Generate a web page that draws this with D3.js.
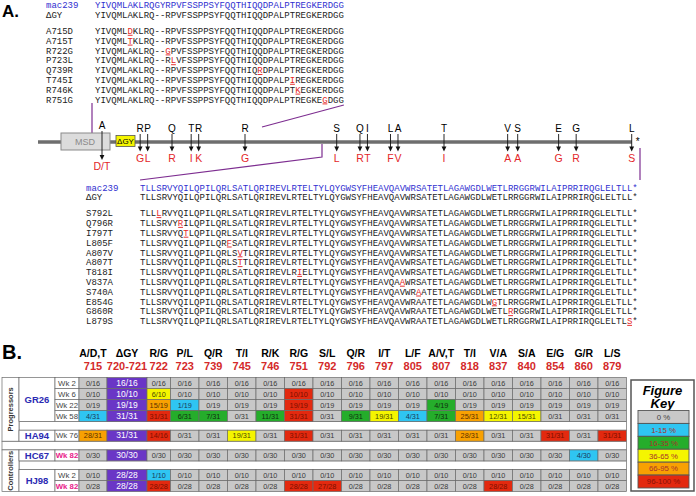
<!DOCTYPE html>
<html>
<head>
<meta charset="utf-8">
<title>SIV gp41 tail mutations</title>
<style>
body { margin: 0; background: #fff; }
text { font-family: Arial, "Liberation Sans", sans-serif; }
text.seq { font-family: "Liberation Mono", "DejaVu Sans Mono", monospace; font-size: 9px; }
</style>
</head>
<body>
<script src="https://cdn.jsdelivr.net/npm/d3@7/dist/d3.min.js"></script>
<script>

// ---------- panel A : aligned sequences ----------
var topStart = 709;
var topRef = "YIVQMLAKLRQGYRPVFSSPPSYFQQTHIQQDPALPTREGKERDGG";
var topDel = "YIVQMLAKLRQ--RPVFSSPPSYFQQTHIQQDPALPTREGKERDGG";
var topMuts = ["A715D", "A715T", "R722G", "P723L", "Q739R", "T745I", "R746K", "R751G"];

var botStart = 789;
var botRef = "TLLSRVYQILQPILQRLSATLQRIREVLRTELTYLQYGWSYFHEAVQAVWRSATETLAGAWGDLWETLRRGGRWILAIPRRIRQGLELTLL*";
var botMuts = ["S792L", "Q796R", "I797T", "L805F", "A807V", "A807T", "T818I", "V837A", "S740A", "E854G", "G860R", "L879S"];
// residue underlined in each row, as printed
var botMutSite = [792, 796, 797, 805, 807, 807, 818, 837, 840, 854, 857, 879];
// rows that also carry 840A
var botCarry840A = [0, 0, 0, 0, 0, 0, 0, 0, 0, 1, 1, 1];

// ---------- panel A : schematic of the tail ----------
var siteWt  = ["A", "R", "P", "Q", "T", "R", "R", "S", "Q", "I", "L", "A", "T", "V", "S", "E", "G", "L"];
var sitePos = [715, 722, 723, 739, 745, 746, 751, 792, 796, 797, 805, 807, 818, 837, 840, 854, 860, 879];
var siteMut = ["D/T", "G", "L", "R", "I", "K", "G", "L", "R", "T", "F", "V", "I", "A", "A", "G", "R", "S"];

// ---------- panel B : table ----------
var colAA  = ["A/D,T", "\u0394GY", "R/G", "P/L", "Q/R", "T/I", "R/K", "R/G", "S/L", "Q/R", "I/T", "L/F", "A/V,T", "T/I", "V/A", "S/A", "E/G", "G/R", "L/S"];
var colPos = ["715", "720-721", "722", "723", "739", "745", "746", "751", "792", "796", "797", "805", "807", "818", "837", "840", "854", "860", "879"];

var rowGroup  = ["Progressors", "Progressors", "Progressors", "Progressors", "Progressors", "Controllers", "Controllers", "Controllers"];
var rowAnimal = ["GR26", "GR26", "GR26", "GR26", "HA94", "HC67", "HJ98", "HJ98"];
var rowWeek   = ["Wk 2", "Wk 6", "Wk 22", "Wk 58", "Wk 76", "Wk 82", "Wk 2", "Wk 82"];
var rowCounts = [
  ["0/16","16/16","0/16","0/16","0/16","0/16","0/16","0/16","0/16","0/16","0/16","0/16","0/16","0/16","0/16","0/16","0/16","0/16","0/16"],
  ["0/10","10/10","6/10","0/10","0/10","0/10","0/10","10/10","0/10","0/10","0/10","0/10","0/10","0/10","0/10","0/10","0/10","0/10","0/10"],
  ["0/19","19/19","15/19","1/19","0/19","0/19","0/19","19/19","0/19","0/19","0/19","0/19","4/19","0/19","0/19","0/19","0/19","0/19","0/19"],
  ["4/31","31/31","31/31","6/31","7/31","0/31","11/31","31/31","0/31","9/31","19/31","4/31","7/31","25/31","12/31","15/31","0/31","0/31","0/31"],
  ["28/31","31/31","14/16","0/31","0/31","19/31","0/31","31/31","0/31","0/31","0/31","0/31","0/31","28/31","0/31","0/31","31/31","0/31","31/31"],
  ["0/30","30/30","0/30","0/30","0/30","0/30","0/30","0/30","0/30","0/30","0/30","0/30","0/30","0/30","0/30","0/30","0/30","4/30","0/30"],
  ["0/10","28/28","1/10","0/10","0/10","0/10","0/10","0/10","0/10","0/10","0/10","0/10","0/10","0/10","0/10","0/10","0/10","0/10","0/10"],
  ["0/28","28/28","28/28","0/28","0/28","0/28","0/28","28/28","27/28","0/28","0/28","0/28","0/28","0/28","28/28","0/28","0/28","0/28","0/28"]
];
// the figure shades HA94 722 (14/16) in the top bin
var cellOverride = {"4,2": 5};

var keyLabels = ["0 %", "1-15 %", "16-35 %", "36-65 %", "66-95 %", "96-100 %"];
var keyColors = ["#c8c8c8", "#2fc5f2", "#25ad2b", "#f5f500", "#f8a102", "#e3290f"];
var dgyColor = "#6a36c6";


var width = 696, height = 496;
var svg = d3.select("body").append("svg")
    .attr("width", width)
    .attr("height", height);

svg.append("text").attr("x", 2).attr("y", 17).text("A.")
    .style("font-size", "17px").style("font-weight", "bold");
svg.append("text").attr("x", 2).attr("y", 359).text("B.")
    .style("font-size", "20px").style("font-weight", "bold");

// ---- sequence blocks ----
var CW = 5.41;
function drawBlock(rows, nameX, seqX) {
  var g = svg.append("g");
  var n = rows[0].seq.length;
  var xs = d3.scaleLinear().domain([0, n]).range([seqX, seqX + n * CW]);
  rows.forEach(function(r) {
    var col = r.ref ? "#3030d0" : "#222";
    g.append("text").attr("class", "seq").attr("x", nameX).attr("y", r.y)
        .attr("fill", col).text(r.name);
    g.selectAll(null)
        .data(r.seq.split(""))
        .enter().append("text")
        .attr("class", "seq")
        .attr("x", function(d, i) { return xs(i) + CW / 2; })
        .attr("y", r.y)
        .attr("text-anchor", "middle")
        .attr("fill", function(d, i) { return i == r.hi ? "#e41f1f" : col; })
        .text(function(d) { return d; });
    if (r.hi != null) {
      g.append("line")
          .attr("x1", xs(r.hi) + 0.3).attr("x2", xs(r.hi + 1) - 0.3)
          .attr("y1", r.y + 1.3).attr("y2", r.y + 1.3)
          .attr("stroke", "#e41f1f").attr("stroke-width", 0.9);
    }
  });
  return xs;
}

var topRows = [{name: "mac239", seq: topRef, ref: true, y: 8}, {name: "\u0394GY", seq: topDel, y: 18}];
topMuts.forEach(function(m, i) {
  var idx = +m.slice(1, -1) - topStart;
  var s = topDel.split("");
  s[idx] = m.slice(-1);
  topRows.push({name: m, seq: s.join(""), hi: idx, y: 34 + i * 9.8});
});
var topX = drawBlock(topRows, 46, 95);

var botRows = [{name: "mac239", seq: botRef, ref: true, y: 190.5}, {name: "\u0394GY", seq: botRef, y: 200.2}];
botMuts.forEach(function(m, i) {
  var idx = botMutSite[i] - botStart;
  var s = botRef.split("");
  if (botCarry840A[i]) s[840 - botStart] = "A";
  s[idx] = m.slice(-1);
  botRows.push({name: m, seq: s.join(""), hi: idx, y: 216.3 + i * 9.8});
});
drawBlock(botRows, 86, 140);

// ---- schematic ----
var track = d3.scaleLinear()
    .domain([709, 715, 723, 739, 746, 751, 755, 789, 792, 797, 807, 818, 840, 879])
    .range([92, 102, 146.7, 172, 196.7, 245, 262, 322, 336.7, 366.7, 397.3, 444, 517.7, 631.7]);

var sites = sitePos.map(function(p, i) {
  return {wt: siteWt[i], pos: p, mut: siteMut[i], x: track(p)};
});
// keep neighbouring arrows apart
for (var k = 1; k < sites.length; k++) {
  var gap = sites[k].x - sites[k - 1].x;
  if (gap < 7.5) {
    var push = (7.5 - gap) / 2;
    sites[k - 1].x -= push;
    sites[k].x += push;
  }
}

var purple = "#7d2d90";
var trackY = 142;

svg.append("line")
    .attr("x1", 38).attr("x2", track(879))
    .attr("y1", trackY).attr("y2", trackY)
    .attr("stroke", "#6e6e6e").attr("stroke-width", 3.5);
svg.append("text").attr("x", track(879) + 6).attr("y", 145)
    .attr("text-anchor", "middle").style("font-size", "10px").text("*");

// connectors from the track to the sequence blocks
svg.append("line").attr("x1", track(709)).attr("x2", track(709))
    .attr("y1", 103).attr("y2", 133)
    .attr("stroke", purple).attr("stroke-width", 1.2);
svg.append("line").attr("x1", track(755)).attr("y1", 127)
    .attr("x2", topX(topRef.length)).attr("y2", 105)
    .attr("stroke", purple).attr("stroke-width", 1.2);
svg.append("path")
    .attr("d", "M" + track(789) + "," + (trackY + 2) + "V157L140,180")
    .attr("fill", "none").attr("stroke", purple).attr("stroke-width", 1.2);
svg.append("line").attr("x1", 640).attr("x2", 640)
    .attr("y1", 148).attr("y2", 180)
    .attr("stroke", purple).attr("stroke-width", 1.2);

// MSD and deletion boxes
svg.append("rect").attr("x", 61).attr("y", 133).attr("width", 49).attr("height", 17)
    .attr("fill", "#dcdcdc").attr("stroke", "#8a8a8a");
svg.append("text").attr("x", 85).attr("y", 144.5).attr("text-anchor", "middle")
    .attr("fill", "#8a8a8a").style("font-size", "9px").text("MSD");
svg.append("rect").attr("x", 116).attr("y", 135.5).attr("width", 19).attr("height", 11)
    .attr("fill", "#f5f500").attr("stroke", "#555").attr("stroke-width", 0.8);
svg.append("text").attr("x", 125.5).attr("y", 144).attr("text-anchor", "middle")
    .style("font-size", "8px").text("\u0394GY");

var arrows = svg.append("g").selectAll("g")
    .data(sites)
    .enter().append("g");

arrows.append("text")
    .attr("x", function(d) { return d.x; })
    .attr("y", function(d) { return d.pos == 715 ? 129 : 132; })
    .attr("text-anchor", "middle")
    .style("font-size", "10px")
    .text(function(d) { return d.wt; });
arrows.append("line")
    .attr("x1", function(d) { return d.x; })
    .attr("x2", function(d) { return d.x; })
    .attr("y1", function(d) { return d.pos == 715 ? 131 : 134; })
    .attr("y2", function(d) { return d.pos == 715 ? 156 : 147; })
    .attr("stroke", "#111").attr("stroke-width", 0.9);
arrows.append("path")
    .attr("d", function(d) {
      var tip = d.pos == 715 ? 160 : 151.5;
      return "M" + (d.x - 2.4) + "," + (tip - 5) + "L" + (d.x + 2.4) + "," + (tip - 5) + "L" + d.x + "," + tip + "Z";
    })
    .attr("fill", "#111");
arrows.append("text")
    .attr("x", function(d) { return d.x; })
    .attr("y", function(d) { return d.pos == 715 ? 169.5 : 162; })
    .attr("text-anchor", "middle")
    .attr("fill", "#e3262a")
    .style("font-size", "10.5px")
    .text(function(d) { return d.mut; });

// ---- panel B table ----
var colW = [28, 40, 23.5];
for (var c = 3; c < colAA.length; c++) colW.push(28.5);
var colX = [79];
colW.forEach(function(w, i) { colX.push(colX[i] + w); });
var tableRight = colX[colX.length - 1];

var headers = svg.append("g").selectAll("g")
    .data(colAA)
    .enter().append("g");
headers.append("text")
    .attr("x", function(d, i) { return colX[i] + colW[i] / 2; })
    .attr("y", 357)
    .attr("text-anchor", "middle")
    .style("font-size", "10.5px").style("font-weight", "bold")
    .text(function(d) { return d; });
headers.append("text")
    .attr("x", function(d, i) { return colX[i] + colW[i] / 2; })
    .attr("y", 369.5)
    .attr("text-anchor", "middle")
    .attr("fill", "#d42a2a")
    .style("font-size", "11px").style("font-weight", "bold")
    .text(function(d, i) { return colPos[i]; });

var rowH = 11, sepH = 8.7;
var rowY = [], seps = [], y = 377.5;
rowWeek.forEach(function(w, i) {
  if (i > 0 && rowGroup[i] != rowGroup[i - 1]) { seps.push({type: "gap", y: y}); y += sepH; }
  else if (i > 0 && rowAnimal[i] != rowAnimal[i - 1]) { seps.push({type: "spacer", y: y}); y += sepH; }
  rowY.push(y);
  y += rowH;
});

var lineCol = "#6a6a6a";
var tbl = svg.append("g");

// separator rows
tbl.selectAll(".sep")
    .data(seps)
    .enter().append("rect")
    .attr("x", function(d) { return d.type == "gap" ? 2 : 19; })
    .attr("y", function(d) { return d.y; })
    .attr("width", function(d) { return tableRight - (d.type == "gap" ? 2 : 19); })
    .attr("height", sepH)
    .attr("fill", "#fff").attr("stroke", lineCol).attr("stroke-width", 0.7);

// group and animal blocks
function spans(keys) {
  var out = [];
  keys.forEach(function(k, i) {
    if (i == 0 || keys[i - 1] != k) out.push({key: k, first: i, last: i});
    else out[out.length - 1].last = i;
  });
  return out;
}
var groups = spans(rowGroup);
tbl.selectAll(".grp")
    .data(groups)
    .enter().append("rect")
    .attr("x", 2).attr("width", 17)
    .attr("y", function(d) { return rowY[d.first]; })
    .attr("height", function(d) { return rowY[d.last] + rowH - rowY[d.first]; })
    .attr("fill", "#fff").attr("stroke", lineCol).attr("stroke-width", 0.7);
tbl.selectAll(".grpLabel")
    .data(groups)
    .enter().append("text")
    .attr("transform", function(d) {
      var cy = (rowY[d.first] + rowY[d.last] + rowH) / 2;
      return "translate(13.2," + cy + ") rotate(-90)";
    })
    .attr("text-anchor", "middle")
    .attr("fill", "#333")
    .style("font-size", "7.5px").style("font-weight", "bold")
    .text(function(d) { return d.key; });

var animals = spans(rowAnimal);
tbl.selectAll(".ani")
    .data(animals)
    .enter().append("rect")
    .attr("x", 19).attr("width", 36)
    .attr("y", function(d) { return rowY[d.first]; })
    .attr("height", function(d) { return rowY[d.last] + rowH - rowY[d.first]; })
    .attr("fill", "#fff").attr("stroke", lineCol).attr("stroke-width", 0.7);
tbl.selectAll(".aniLabel")
    .data(animals)
    .enter().append("text")
    .attr("x", 37)
    .attr("y", function(d) { return (rowY[d.first] + rowY[d.last] + rowH) / 2 + 3.4; })
    .attr("text-anchor", "middle")
    .attr("fill", "#2b2bb3")
    .style("font-size", "9.5px").style("font-weight", "bold")
    .text(function(d) { return d.key; });

// week cells
tbl.selectAll(".wk")
    .data(rowWeek)
    .enter().append("rect")
    .attr("x", 55).attr("width", 24)
    .attr("y", function(d, i) { return rowY[i]; })
    .attr("height", rowH)
    .attr("fill", "#fff").attr("stroke", lineCol).attr("stroke-width", 0.7);
tbl.selectAll(".wkLabel")
    .data(rowWeek)
    .enter().append("text")
    .attr("x", 67)
    .attr("y", function(d, i) { return rowY[i] + 8; })
    .attr("text-anchor", "middle")
    .attr("fill", function(d) { return d == "Wk 82" ? "#e8208a" : "#444"; })
    .style("font-size", "7.8px")
    .style("font-weight", function(d) { return d == "Wk 82" ? "bold" : "normal"; })
    .text(function(d) { return d; });

// data cells
var bin = d3.scaleThreshold().domain([0.5, 15.5, 35.5, 65.5, 95.5]).range(d3.range(6));
var cells = [];
rowCounts.forEach(function(row, r) {
  row.forEach(function(v, c) {
    var p = v.split("/");
    var b = bin(100 * p[0] / p[1]);
    if (cellOverride[r + "," + c] != null) b = cellOverride[r + "," + c];
    cells.push({r: r, c: c, v: v, bin: b});
  });
});
var cellTextCol = ["#3a3a3a", "#1a3a5a", "#10300f", "#4a4a00", "#5a3000", "#7a1000"];

var cell = tbl.selectAll(".cell")
    .data(cells)
    .enter().append("g");
cell.append("rect")
    .attr("x", function(d) { return colX[d.c]; })
    .attr("y", function(d) { return rowY[d.r]; })
    .attr("width", function(d) { return colW[d.c]; })
    .attr("height", rowH)
    .attr("fill", function(d) { return d.c == 1 ? dgyColor : keyColors[d.bin]; })
    .attr("stroke", lineCol).attr("stroke-width", 0.7);
cell.append("text")
    .attr("x", function(d) { return colX[d.c] + colW[d.c] / 2; })
    .attr("y", function(d) { return rowY[d.r] + 8; })
    .attr("text-anchor", "middle")
    .attr("fill", function(d) { return d.c == 1 ? "#fff" : cellTextCol[d.bin]; })
    .style("font-size", function(d) { return d.c == 1 ? "8.5px" : "7.3px"; })
    .text(function(d) { return d.v; });

// figure key
var key = svg.append("g");
key.append("rect").attr("x", 631).attr("y", 380).attr("width", 63).attr("height", 111)
    .attr("fill", "#fff").attr("stroke", "#555").attr("stroke-width", 1.5);
key.selectAll(".kt")
    .data(["Figure", "Key"])
    .enter().append("text")
    .attr("x", 662.5)
    .attr("y", function(d, i) { return 395 + i * 13; })
    .attr("text-anchor", "middle")
    .style("font-size", "13px").style("font-weight", "bold").style("font-style", "italic")
    .text(function(d) { return d; });
var ky = d3.scaleBand().domain(keyLabels).range([410.5, 488]);
key.selectAll(".kr")
    .data(keyLabels)
    .enter().append("rect")
    .attr("x", 638).attr("width", 51)
    .attr("y", function(d) { return ky(d); })
    .attr("height", ky.bandwidth())
    .attr("fill", function(d, i) { return keyColors[i]; })
    .attr("stroke", "#555").attr("stroke-width", 0.9);
key.selectAll(".kl")
    .data(keyLabels)
    .enter().append("text")
    .attr("x", 663.5)
    .attr("y", function(d) { return ky(d) + ky.bandwidth() / 2 + 2.8; })
    .attr("text-anchor", "middle")
    .attr("fill", function(d, i) { return i == 0 ? "#444" : (i == 5 ? "#8a1208" : "#a8322a"); })
    .style("font-size", "7.8px")
    .text(function(d) { return d; });

</script>
</body>
</html>
